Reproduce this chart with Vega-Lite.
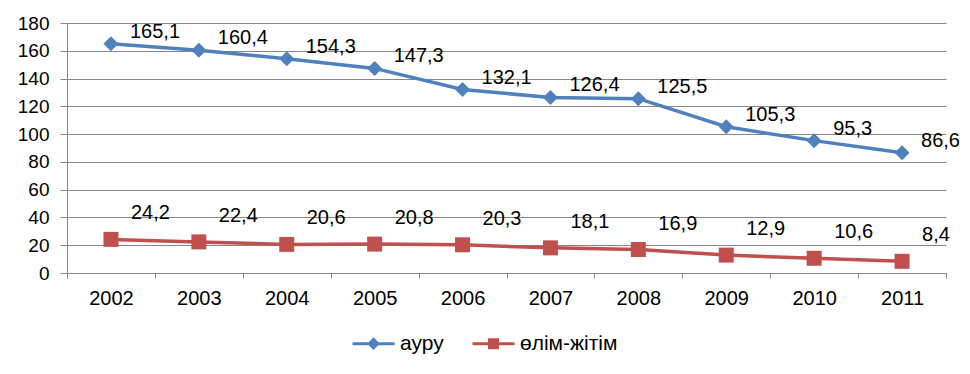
{
  "$schema": "https://vega.github.io/schema/vega-lite/v6.json",
  "autosize": {"type": "none"},
  "padding": {"left": 67, "top": 23, "right": 24, "bottom": 101},
  "width": 879,
  "height": 250,
  "background": "white",
  "config": {
    "locale": {"number": {"decimal": ",", "thousands": " ", "grouping": [3], "currency": ["", ""]}},
    "font": "Liberation Sans",
    "view": {"stroke": null}
  },
  "data": {
    "values": [
      {"year": "2002", "series": "ауру", "value": 165.1},
      {"year": "2003", "series": "ауру", "value": 160.4},
      {"year": "2004", "series": "ауру", "value": 154.3},
      {"year": "2005", "series": "ауру", "value": 147.3},
      {"year": "2006", "series": "ауру", "value": 132.1},
      {"year": "2007", "series": "ауру", "value": 126.4},
      {"year": "2008", "series": "ауру", "value": 125.5},
      {"year": "2009", "series": "ауру", "value": 105.3},
      {"year": "2010", "series": "ауру", "value": 95.3},
      {"year": "2011", "series": "ауру", "value": 86.6},
      {"year": "2002", "series": "өлім-жітім", "value": 24.2},
      {"year": "2003", "series": "өлім-жітім", "value": 22.4},
      {"year": "2004", "series": "өлім-жітім", "value": 20.6},
      {"year": "2005", "series": "өлім-жітім", "value": 20.8},
      {"year": "2006", "series": "өлім-жітім", "value": 20.3},
      {"year": "2007", "series": "өлім-жітім", "value": 18.1},
      {"year": "2008", "series": "өлім-жітім", "value": 16.9},
      {"year": "2009", "series": "өлім-жітім", "value": 12.9},
      {"year": "2010", "series": "өлім-жітім", "value": 10.6},
      {"year": "2011", "series": "өлім-жітім", "value": 8.4}
    ]
  },
  "encoding": {
    "x": {
      "field": "year", "type": "ordinal", "bandPosition": 0.5,
      "scale": {"type": "band", "paddingInner": 0, "paddingOuter": 0},
      "axis": {
        "title": null, "labelAngle": 0, "tickBand": "extent", "grid": false,
        "domainColor": "#868686", "tickColor": "#868686", "tickSize": 5,
        "labelFont": "Liberation Sans", "labelFontSize": 20, "labelColor": "#000000",
        "labelPadding": 10
      }
    },
    "y": {
      "field": "value", "type": "quantitative",
      "scale": {"domain": [0, 180], "nice": false},
      "axis": {
        "title": null, "values": [0, 20, 40, 60, 80, 100, 120, 140, 160, 180],
        "grid": true, "gridColor": "#868686", "gridWidth": 1,
        "domainColor": "#868686", "tickColor": "#868686", "tickSize": 7,
        "labelFont": "Liberation Sans", "labelFontSize": 19, "labelColor": "#000000",
        "labelPadding": 11
      }
    },
    "color": {
      "field": "series", "type": "nominal",
      "scale": {"domain": ["ауру", "өлім-жітім"], "range": ["#4F81BD", "#C0504D"]},
      "legend": {
        "title": null, "orient": "none", "legendX": 296, "legendY": 310,
        "direction": "horizontal", "padding": 0,
        "symbolSize": 100, "symbolStrokeWidth": 3,
        "labelFont": "Liberation Sans", "labelFontSize": 21, "labelColor": "#000000",
        "labelOffset": 16, "columnPadding": 22,
        "encode": {
          "symbols": {
            "update": {
              "shape": {"signal": "datum.value === 'ауру' ? 'M-4.2,0H4.2M0,-0.85L0.85,0L0,0.85L-0.85,0Z' : 'M-4.2,0H4.2M-0.8,-0.8H0.8V0.8H-0.8Z'"},
              "fill": {"scale": "color", "field": "value"},
              "stroke": {"scale": "color", "field": "value"},
              "strokeWidth": {"value": 3},
              "opacity": {"value": 1},
              "fillOpacity": {"value": 1},
              "strokeOpacity": {"value": 1}
            }
          }
        }
      }
    }
  },
  "layer": [
    {"mark": {"type": "line", "strokeWidth": 3.5}},
    {
      "transform": [{"filter": "datum.series === 'ауру'"}],
      "mark": {"type": "point", "filled": true, "opacity": 1, "size": 225, "shape": "diamond"}
    },
    {
      "transform": [{"filter": "datum.series === 'өлім-жітім'"}],
      "mark": {"type": "point", "filled": true, "opacity": 1, "size": 225, "shape": "square"}
    },
    {
      "transform": [{"filter": "datum.series === 'ауру'"}],
      "mark": {"type": "text", "align": "left", "baseline": "middle", "dx": 19, "dy": -12, "fontSize": 20, "font": "Liberation Sans", "color": "#000000"},
      "encoding": {"text": {"field": "value", "type": "quantitative", "format": ".1f"}, "color": {"value": "#000000"}}
    },
    {
      "transform": [{"filter": "datum.series === 'өлім-жітім'"}],
      "mark": {"type": "text", "align": "left", "baseline": "middle", "dx": 20, "dy": -26, "fontSize": 20, "font": "Liberation Sans", "color": "#000000"},
      "encoding": {"text": {"field": "value", "type": "quantitative", "format": ".1f"}, "color": {"value": "#000000"}}
    }
  ]
}
